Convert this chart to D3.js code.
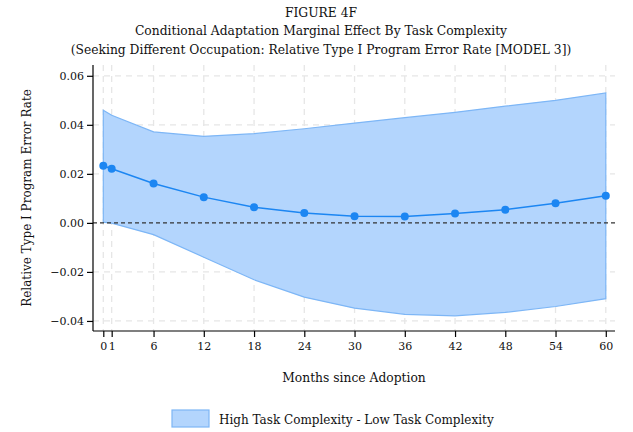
<!DOCTYPE html>
<html>
<head>
<meta charset="utf-8">
<script src="https://cdnjs.cloudflare.com/ajax/libs/d3/7.8.5/d3.min.js"></script>
<style>
  body { margin: 0; background: #fff; }
  svg text { font-family: "DejaVu Serif", serif; fill: #111; }
</style>
</head>
<body>
<div id="chart"></div>
<script>
var months = [0, 1, 6, 12, 18, 24, 30, 36, 42, 48, 54, 60];
var effect = [0.0233, 0.0221, 0.0161, 0.0105, 0.0064, 0.0040, 0.0027, 0.0026, 0.0038, 0.0054, 0.0080, 0.0111];
var upper  = [0.0459, 0.0439, 0.0371, 0.0353, 0.0364, 0.0384, 0.0407, 0.0429, 0.0451, 0.0476, 0.0500, 0.0530];
var lower  = [0.0003, -0.0001, -0.0048, -0.0140, -0.0232, -0.0303, -0.0348, -0.0373, -0.0379, -0.0365, -0.0341, -0.0309];
var xTicks = [0, 1, 6, 12, 18, 24, 30, 36, 42, 48, 54, 60];
var yTicks = [-0.04, -0.02, 0, 0.02, 0.04, 0.06];
var titles = ["FIGURE 4F",
  "Conditional Adaptation Marginal Effect By Task Complexity",
  "(Seeking Different Occupation: Relative Type I Program Error Rate [MODEL 3])"];
var legendLabel = "High Task Complexity - Low Task Complexity";

var width = 633, height = 432;
var margin = {top: 65, right: 18, bottom: 101, left: 93};

var svg = d3.select("#chart").append("svg")
    .attr("width", width)
    .attr("height", height);

var x = d3.scaleLinear()
    .domain([-1.23, 61.1])
    .range([margin.left, width - margin.right]);
var y = d3.scaleLinear()
    .domain([-0.0441, 0.0644])
    .range([height - margin.bottom, margin.top]);

var pts = months.map(function(m, i) {
  return {m: m, v: effect[i], hi: upper[i], lo: lower[i]};
});

// grid
var grid = svg.append("g").attr("stroke", "#e6e6e6").attr("stroke-width", 1.3)
    .attr("stroke-dasharray", "6,5");
grid.selectAll(".gx").data(xTicks).enter().append("line")
    .attr("x1", function(d) { return x(d); }).attr("x2", function(d) { return x(d); })
    .attr("y1", margin.top).attr("y2", height - margin.bottom);
grid.selectAll(".gy").data(yTicks.filter(function(d) { return d !== 0; })).enter().append("line")
    .attr("x1", margin.left).attr("x2", width - margin.right)
    .attr("y1", function(d) { return y(d); }).attr("y2", function(d) { return y(d); });

// confidence band
var area = d3.area()
    .x(function(d) { return x(d.m); })
    .y0(function(d) { return y(d.lo); })
    .y1(function(d) { return y(d.hi); });
svg.append("path").datum(pts)
    .attr("d", area)
    .attr("fill", "#b3d5fd")
    .attr("stroke", "#7db6f6")
    .attr("stroke-width", 1.2);

// zero line
svg.append("line")
    .attr("x1", margin.left).attr("x2", width - margin.right)
    .attr("y1", y(0)).attr("y2", y(0))
    .attr("stroke", "#333").attr("stroke-width", 1.3)
    .attr("stroke-dasharray", "4,3");

// effect line + points
var line = d3.line()
    .x(function(d) { return x(d.m); })
    .y(function(d) { return y(d.v); });
svg.append("path").datum(pts)
    .attr("d", line)
    .attr("fill", "none")
    .attr("stroke", "#1c86f2")
    .attr("stroke-width", 1.5);
svg.selectAll(".dot").data(pts).enter().append("circle")
    .attr("cx", function(d) { return x(d.m); })
    .attr("cy", function(d) { return y(d.v); })
    .attr("r", 4)
    .attr("fill", "#1c86f2");

// axes
var xAxis = d3.axisBottom(x).tickValues(xTicks).tickSize(6).tickPadding(5)
    .tickFormat(d3.format("d"));
var gx = svg.append("g")
    .attr("transform", "translate(0," + (height - margin.bottom) + ")")
    .call(xAxis);
var yAxis = d3.axisLeft(y).tickValues(yTicks).tickSize(6).tickPadding(3)
    .tickFormat(d3.format(".2f"));
var gy = svg.append("g")
    .attr("transform", "translate(" + margin.left + ",0)")
    .call(yAxis);
[gx, gy].forEach(function(g) {
  g.select(".domain").attr("stroke", "#000").attr("stroke-width", 1.2);
  g.selectAll(".tick line").attr("stroke", "#000").attr("stroke-width", 1.2);
  g.selectAll(".tick text").attr("font-family", "DejaVu Serif").attr("font-size", 11).attr("fill", "#111");
});
gx.select(".domain").attr("d", "M" + margin.left + ",0H" + (width - margin.right));
gy.select(".domain").attr("d", "M0," + (height - margin.bottom) + "V" + margin.top);

// titles
svg.selectAll(".title").data(titles).enter().append("text")
    .attr("x", 321)
    .attr("y", function(d, i) { return 16.5 + i * 18.5; })
    .attr("text-anchor", "middle")
    .attr("font-size", 12.3)
    .text(function(d) { return d; });

// axis titles
svg.append("text")
    .attr("x", (margin.left + width - margin.right) / 2)
    .attr("y", 382)
    .attr("text-anchor", "middle")
    .attr("font-size", 12.3)
    .text("Months since Adoption");
svg.append("text")
    .attr("transform", "translate(31," + ((margin.top + height - margin.bottom) / 2) + ") rotate(-90)")
    .attr("text-anchor", "middle")
    .attr("font-size", 12)
    .text("Relative Type I Program Error Rate");

// legend
svg.append("rect")
    .attr("x", 172).attr("y", 410).attr("width", 37).attr("height", 17)
    .attr("fill", "#b3d5fd").attr("stroke", "#7db6f6").attr("stroke-width", 1.2);
svg.append("text")
    .attr("x", 219).attr("y", 424)
    .attr("font-size", 12)
    .text(legendLabel);
</script>
</body>
</html>
